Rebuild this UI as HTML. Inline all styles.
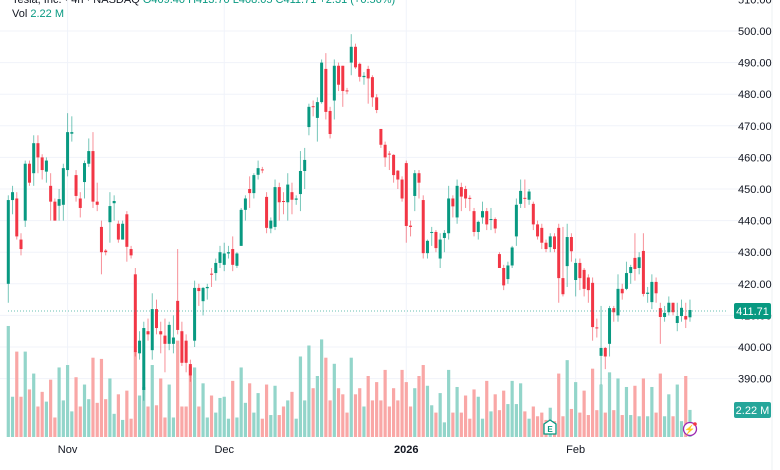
<!DOCTYPE html>
<html><head><meta charset="utf-8"><style>
body{margin:0;background:#fff;}
svg{display:block;font-family:"Liberation Sans",sans-serif;}
</style></head><body>
<svg id="chart" width="780" height="470" viewBox="0 0 780 470">
<g id="grid"></g>
<g id="vol"></g>
<g id="candles"></g>
<g id="axis"></g>
<g id="taxis"></g>
<line x1="772" y1="0" x2="772" y2="470" stroke="#eef0f3"/>
<text x="12" y="3" font-size="11" fill="#131722">Tesla, Inc. · 4h · NASDAQ <tspan fill="#089981">O409.40 H413.70 L408.05 C411.71 +2.31 (+0.56%)</tspan></text>
<text x="12" y="17" font-size="11" fill="#131722">Vol <tspan fill="#089981">2.22 M</tspan></text>
<line x1="8" y1="311" x2="728" y2="311" stroke="#089981" stroke-dasharray="1,2" opacity="0.6"/>
<rect x="734" y="303" width="37" height="16" rx="2" fill="#089981"/>
<text x="752.5" y="315" font-size="11" fill="#fff" text-anchor="middle">411.71</text>
<rect x="734" y="402" width="37" height="16" rx="2" fill="#26a69a"/>
<text x="752.5" y="414" font-size="11" fill="#fff" text-anchor="middle">2.22 M</text>
<g><path d="M544 424 L550 420 L556 424 L556 434 L544 434 Z" fill="#fff" stroke="#089981" stroke-width="1.3"/><text x="550" y="432" font-size="8" text-anchor="middle" fill="#089981" font-weight="bold">E</text></g>
<g><circle cx="690" cy="429" r="6.5" fill="#fff" stroke="#9c27b0" stroke-width="1.3"/><text x="690" y="432.5" font-size="9" text-anchor="middle" fill="#9c27b0">⚡</text><circle cx="695" cy="424" r="1.8" fill="#f23645"/></g>
</svg>
<script>
const opens=[420,446.5,447,434,440,458,455,464.5,460,455.5,
451,446,444.7,445,456,467.5,454.4,447,452.2,458,
462,446,438,430.5,439.5,445.5,439,434,442,431,
423,398,386.4,405,399,412,405,403.6,401,401,
414.6,405,402,394.6,402,418.7,414.5,418.6,423.2,423.4,
426.6,426,429.6,431,425.7,432,443.4,450,448.7,454.5,
456.2,447.5,437.5,438,450.6,446.2,445.8,449,446.6,448.4,
455.7,469.6,476.2,472.5,477.5,488,474.7,478,489,489,
481.2,490,495,489.6,485.4,488,485.4,479,469,464,
461.2,460.8,455.8,453,458.2,438.4,447.8,455,446.5,429.7,
436.2,436.4,428,434.5,436,447,441,450.6,450,447.2,
443,436.4,441,443,440.3,440.5,429.4,425,421.5,425.8,
435,445.3,447.2,446.6,445.3,438.8,437.7,433,431.6,435,
437.7,421.8,425.6,434.8,421.2,426.6,424.4,422,420.3,406.2,
397.2,399.7,401,412.3,410,418.4,418.4,423.4,428.2,425,
430.4,416.8,414.2,420.6,412.3,409.5,411,414,407.6,409.8,
409.8,409.4];
const closes=[446.5,449,435,431,458,452,464.5,460,456,459,
446,440,446.8,456.6,468,468,447.8,444,458.2,462,
446,445,430,430,444.6,446.2,434,439,431.7,429,
398.4,402,406,404,412,406,404,401,407,403,
405.4,395,395,391,418.7,417.7,418.7,419,423,426.6,
430,429.6,430,426,429.6,443.4,447,448.7,454.4,456.6,
456,437.7,440,450.6,445.8,446,451.4,446.6,447,455.7,
459.2,476,476,477.5,490,474.4,467.4,489,483,481,
481,495,488.5,485.5,485.8,485,479,475,464,460,
461,454.4,453,447,438.3,438,455,452,429.7,433.6,
436.4,431.3,434,436.1,447,444.5,451,447.6,447,447,
436.4,439.6,443,438.8,440.5,437.5,425,419.5,425.8,431.5,
445,449.4,447,449.2,438.8,435,433,431,435,431,
421.8,416.7,434.8,430.3,426.6,421.8,418.4,418,406.3,406,
399.7,397,412.3,411,418.4,417,423.4,425.3,424.7,428.4,
416.8,417.2,420.6,417,409.5,410.8,414,411,409.8,412.4,
408.7,411.71];
const highs=[448,451,449,436,459,459,467,467,461,460,
455,447,450,458,474,473,456,449,459,466,
468,452,440,431,449,448,440,440,443,432,
425,405,408,409,417,415,408,409,408,410,
431,408,404,396,421,420,419,420,425,428,
432,433,432,435,430,444,448,454,455,459,
457,449,441,453,452,449,455,452,448,462,
463,477,478,479,491,493,476,491,490,489,
482,499,496,490,487,489,486,480,469,465,
462,461,456,454,459,440,456,456,448,434,
438,437,436,437,451,448,453,452,451,448,
444,440,446,444,444,441,430,426,427,432,
447,453,453,450,446,440,439,434,436,436,
439,438,439,436,428,428,425,423,422,409,
413,400,413,413,423,420,427,426,436,430,
436,419,423,422,414,413,416,414,414,415,
414,415];
const lows=[414,442,434,429,438,451,451,455,453,452,
440,440,440,440,454,465,446,441,447,457,
444,443,423,429,433,440,433,434,427,428,
397,396,383,402,396,404,398,392,399,398,
404,394,392,389,400,413,410,415,419,421,
425,424,428,424,425,432,440,444,447,453,
455,436,436,437,440,442,440,442,445,443,
450,467,473,465,477,472,466,472,481,476,
480,486,488,484,483,477,476,474,463,457,
456,452,450,446,433,435,443,447,428,428,
432,430,425,430,434,441,439,443,444,443,
435,434,439,437,437,436,425,418,420,425,
432,444,444,445,437,434,431,430,430,430,
414,416,419,427,416,418,416,414,402,403,
388,393,397,408,408,415,418,420,421,423,
416,414,412,414,401,408,410,410,405,408,
406,408];
const volumes=[9.1,3.3,7.0,3.3,7.0,3.9,5.2,2.5,3.7,2.9,
4.7,1.6,5.7,3.0,5.9,2.1,4.9,2.5,4.3,3.1,
6.5,2.8,6.4,3.1,4.8,1.9,3.5,1.4,3.8,1.5,
7.0,3.4,4.1,2.5,5.9,2.6,4.8,1.6,4.3,1.6,
7.9,2.5,2.5,5.8,5.7,2.5,4.4,1.6,3.4,2.0,
3.2,3.3,1.5,4.6,1.6,5.7,2.8,4.4,2.0,3.6,
1.5,4.3,1.8,4.2,1.8,2.5,3.0,3.7,1.5,6.6,
3.0,7.5,4.0,5.0,8.0,6.5,3.0,6.0,4.0,3.5,
2.0,6.5,3.5,4.0,2.5,5.0,3.0,4.5,3.0,5.5,
2.5,4.0,3.0,5.5,4.5,2.5,4.0,5.0,5.9,4.2,
2.6,2.0,3.6,1.2,5.5,2.0,4.1,2.0,3.4,1.5,
3.9,3.3,1.5,4.6,2.1,3.5,2.2,3.8,2.7,4.6,
2.7,4.4,2.1,1.5,2.5,1.7,2.0,1.4,2.4,1.3,
5.2,1.7,6.3,2.3,4.5,2.0,3.8,1.8,5.6,2.2,
4.3,2.0,5.3,2.2,4.8,1.8,4.1,1.8,4.2,1.7,
4.8,1.7,4.1,2.0,5.2,1.7,3.5,1.7,4.3,1.3,
5.0,2.22];
const priceTicks=[390,400,410,420,430,440,450,460,470,480,490,500,510];
const timeLabels=["Nov","Dec","2026","Feb"];
const timeLabelIdx=[14,51,94,134];

const NS="http://www.w3.org/2000/svg";
function yP(p){return 31+(500-p)*3.16;}
function xI(i){return 8.3+i*4.234;}
function yV(v){return 437-v*12.2;}
function mk(tag,attrs,parent){const e=document.createElementNS(NS,tag);for(const k in attrs)e.setAttribute(k,attrs[k]);parent.appendChild(e);return e;}
const grid=document.getElementById('grid'),axis=document.getElementById('axis'),taxis=document.getElementById('taxis');
const vol=document.getElementById('vol'),cg=document.getElementById('candles');
priceTicks.forEach(p=>{
  const l=mk('line',{x1:0,x2:772,y1:yP(p),y2:yP(p),stroke:'#f0f3fa'},grid);
  
  
  const t=mk('text',{x:738,y:yP(p)+4,'font-size':11,fill:'#131722'},axis);
  t.textContent=p.toFixed(2);
  
  
});
timeLabels.forEach((s,k)=>{
  const x=xI(timeLabelIdx[k]);
  const l=mk('line',{x1:x,x2:x,y1:0,y2:437,stroke:'#f0f3fa'},grid);
  
  
  const t=mk('text',{x:x,y:453,'font-size':11,fill:'#131722','text-anchor':'middle','font-weight':s==='2026'?'bold':'normal'},taxis);
  t.textContent=s;
  
  
});
closes.forEach((c,i)=>{
  const o=opens[i],up=c>=o,x=xI(i);
  const vb=mk('rect',{x:x-1.6,y:yV(volumes[i]),width:3.2,height:437-yV(volumes[i]),fill:up?'#93d5ca':'#f9a7a6'},vol);
  
  
  const col=up?'#089981':'#f23645';
  const w=mk('line',{x1:x,x2:x,y1:yP(highs[i]),y2:yP(lows[i]),stroke:col,'stroke-width':1,opacity:0.55},cg);
  
  
  const top=yP(Math.max(o,c)),bot=yP(Math.min(o,c));
  const b=mk('rect',{x:x-1.5,y:top,width:3,height:Math.max(1,bot-top),fill:col},cg);
  
  
});
</script>
</body></html>
